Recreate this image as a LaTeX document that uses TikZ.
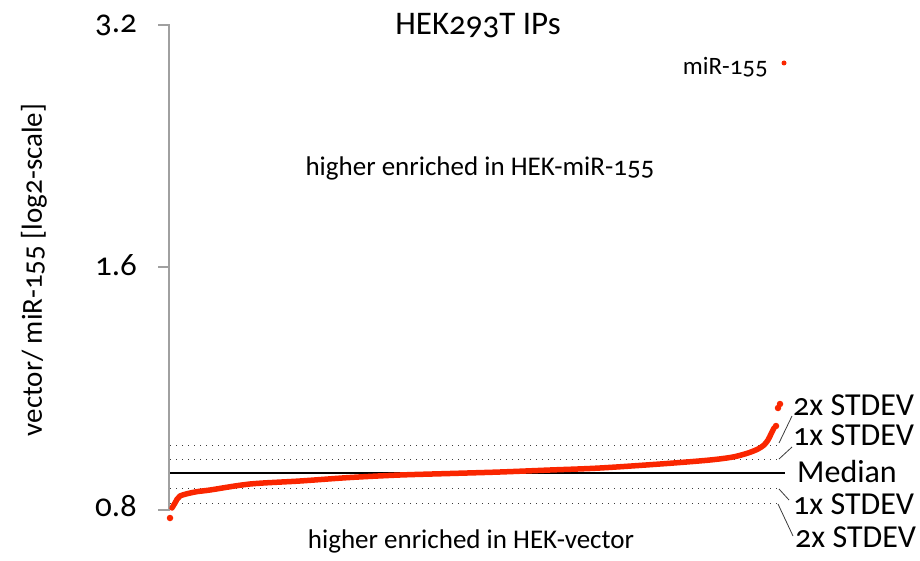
\documentclass[tikz,border=0pt]{standalone}
\usepackage{fontspec}
\setmainfont{Carlito}[Numbers=OldStyle]
\definecolor{ptred}{RGB}{250,38,0}
\definecolor{axgray}{RGB}{160,160,160}
\definecolor{dotgray}{RGB}{60,60,60}
\begin{document}
\begin{tikzpicture}[x=1pt,y=-1pt,
  ticklab/.style={anchor=base east,inner sep=0pt,font=\fontsize{33}{33}\selectfont},
  bodytxt/.style={anchor=base,inner sep=0pt,font=\fontsize{27}{27}\selectfont},
  sidelab/.style={anchor=base west,inner sep=0pt,font=\fontsize{32}{32}\selectfont},
  sdline/.style={dotgray,line width=1pt,dash pattern=on 1pt off 5pt},
  leader/.style={dotgray,line width=0.8pt},
  ptdot/.style={circle,fill=ptred,inner sep=0pt,minimum size=6.5pt}]
\useasboundingbox (0,0) rectangle (920,561);
% axis
\draw[axgray,line width=1.8pt] (158,25) -- (169,25) -- (169,510) -- (158,510);
\draw[axgray,line width=1.8pt] (158,267) -- (169,267);
\node[ticklab] (t32) at (137,33) {3.2};
\node[ticklab] (t16) at (137,275) {1.6};
\node[ticklab] (t08) at (137,516) {0.8};
\node[rotate=90,inner sep=0pt,font=\fontsize{29}{29}\selectfont] (ylab) at (34,270) {vector/ miR-155 [log2-scale]};
% title and texts
\node[anchor=base,inner sep=0pt,font=\fontsize{33}{33}\selectfont] (title) at (478,35) {HEK293T IPs};
\node[bodytxt] (up) at (480,176) {higher enriched in HEK-miR-155};
\node[bodytxt] (down) at (471,548) {higher enriched in HEK-vector};
\node[anchor=base east,inner sep=0pt,font=\fontsize{25}{25}\selectfont] (mir) at (768,75) {miR-155};
\node[ptdot,minimum size=5pt] (outl) at (784,63) {};
% reference lines
\coordinate (s2ua) at (170,445); \coordinate (s2ub) at (777,445);
\coordinate (s1ua) at (170,459); \coordinate (s1ub) at (777,459);
\coordinate (mda) at (170,473); \coordinate (mdb) at (785,473);
\coordinate (s1la) at (170,488); \coordinate (s1lb) at (777,488);
\coordinate (s2la) at (170,503); \coordinate (s2lb) at (777,503);
\draw[sdline] (s2ua) -- (s2ub);
\draw[sdline] (s1ua) -- (s1ub);
\draw[sdline] (s1la) -- (s1lb);
\draw[sdline] (s2la) -- (s2lb);
\draw[black,line width=1.2pt] (mda) -- (mdb);
% side labels
\node[sidelab] (l2u) at (793,415) {2x STDEV};
\node[sidelab] (l1u) at (793,445) {1x STDEV};
\node[sidelab] (lmd) at (797,482) {Median};
\node[sidelab] (l1l) at (793,514) {1x STDEV};
\node[sidelab] (l2l) at (795,547) {2x STDEV};
\coordinate (e2u) at (779,443); \coordinate (e1u) at (779,459);
\coordinate (e1l) at (779,489); \coordinate (e2l) at (778,504);
\coordinate (f2u) at (792,416); \coordinate (f1u) at (792,447);
\coordinate (f1l) at (789,500); \coordinate (f2l) at (793,536);
\draw[leader] (e2u) -- (f2u);
\draw[leader] (e1u) -- (f1u);
\draw[leader] (e1l) -- (f1l);
\draw[leader] (e2l) -- (f2l);
% data curve
\draw[ptred,line width=5.5pt,line cap=round,line join=round]
  plot[smooth,tension=0.5] coordinates {(172,508) (175,503) (180,496) (195,492) (210,490) (250,484) (300,481) (350,477.5) (400,475) (450,473.5) (500,472) (550,470) (600,468) (667,463.5) (710,460) (733,457) (748,453) (758,449) (764,445) (768,440) (771,434) (774,428)};
\node[ptdot] (p0) at (170,518) {};
\node[ptdot] (p1) at (778,408) {};
\node[ptdot] (p2) at (780,404) {};
\node[ptdot] (p3) at (776,426) {};
\end{tikzpicture}
\end{document}
